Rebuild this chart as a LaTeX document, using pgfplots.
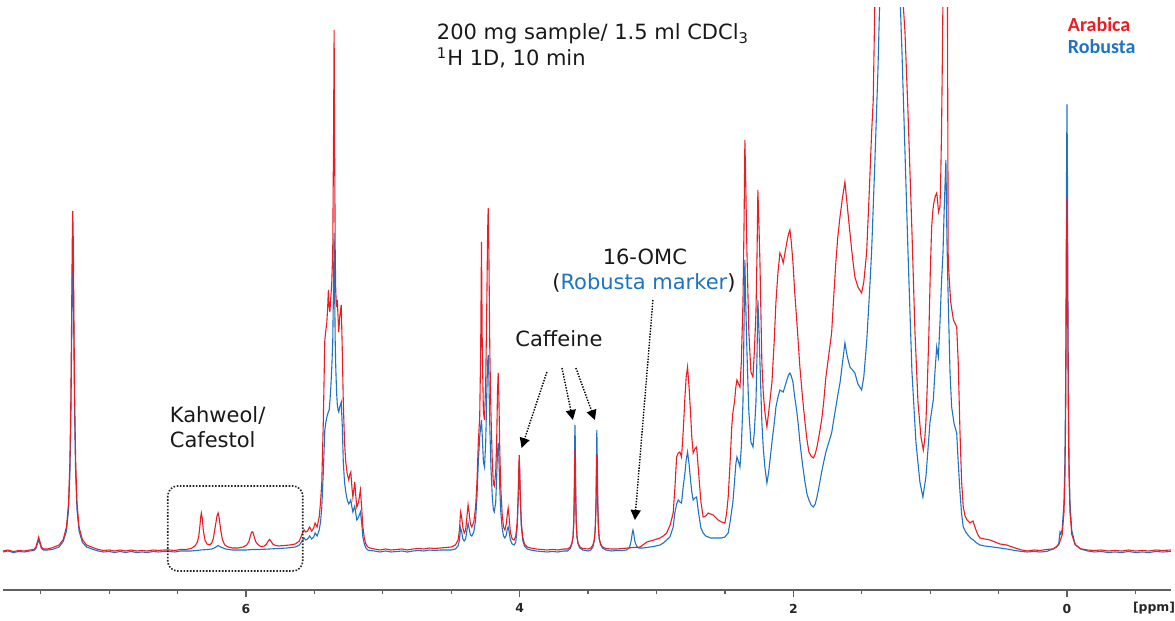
\documentclass[border=0pt]{standalone}
\usepackage{pgfplots}
\pgfplotsset{compat=1.18}
\usepackage{fontspec}
\setmainfont{DejaVu Sans}
\newfontfamily\carlito{Carlito}
\usetikzlibrary{arrows.meta}
\definecolor{arabica}{RGB}{236,28,36}
\definecolor{robusta}{RGB}{30,115,195}

\begin{document}
\begin{tikzpicture}
\begin{axis}[
    at={(0,0)}, anchor=south west,
    scale only axis, width=584pt, height=291pt,
    x dir=reverse,
    xmin=-0.76, xmax=7.776,
    ymin=-38, ymax=544,
    axis x line*=bottom, axis y line=none,
    x axis line style={-, gray!75!black, line width=0.9pt},
    xtick={0,2,4,6},
    minor xtick={-0.5,0.5,1,1.5,2.5,3,3.5,4.5,5,5.5,6.5,7,7.5},
    tick align=outside,
    major tick length=3.4pt, minor tick length=2.2pt,
    every tick/.style={gray!75!black, line width=0.6pt},
    /pgf/number format/assume math mode=true,
    xticklabel style={font=\fontsize{6.2}{7}\selectfont\bfseries, text=black!85},
    clip mode=individual,
]

% Robusta (blue)
\addplot[robusta, line width=0.55pt] coordinates {
(7.776,0) (7.74,1) (7.70,-0.5) (7.66,0.5) (7.62,0) (7.58,1) (7.55,1.5) (7.535,3.5) (7.525,8) (7.515,12) (7.505,8) (7.495,3.5) (7.48,2) (7.45,2) (7.416,2.5)
(7.366,5) (7.336,10.5) (7.312,21) (7.297,42) (7.287,78) (7.280,132.5) (7.275,196) (7.270,270) (7.266,297.5) (7.262,270) (7.257,196) (7.252,132.5) (7.245,78) (7.235,42) (7.220,21) (7.196,9.7) (7.166,5) (7.116,2.5)
(7.08,1) (7.04,0) (7.00,0.5) (6.96,-0.5) (6.92,0.5) (6.88,-0.5) (6.84,0.5) (6.80,-0.5) (6.76,0) (6.72,-0.5) (6.68,0.5) (6.64,0) (6.60,0.5) (6.56,0.5) (6.52,0) (6.48,1) (6.44,1) (6.40,1)
(6.33,2) (6.28,2.5) (6.25,3) (6.225,4.5) (6.204,6.5) (6.185,5) (6.15,3) (6.10,2) (6.05,2) (6.00,2) (5.95,2.5) (5.90,2.5) (5.83,3) (5.76,3.5) (5.70,4) (5.64,5) (5.61,7)
(5.59,11) (5.575,14) (5.565,12) (5.55,13) (5.535,16) (5.52,13) (5.505,15) (5.495,19) (5.48,16) (5.465,22) (5.455,30) (5.446,45) (5.435,80) (5.424,122) (5.416,130) (5.409,135) (5.403,138) (5.398,140) (5.392,142) (5.387,150) (5.380,165) (5.373,185) (5.366,210) (5.360,270) (5.356,319) (5.352,260) (5.348,210) (5.344,185) (5.338,160) (5.333,148) (5.327,142) (5.322,140) (5.315,145) (5.304,150) (5.296,125) (5.289,90) (5.280,70) (5.271,60) (5.260,52) (5.249,48) (5.240,50) (5.234,52) (5.226,45) (5.219,40) (5.212,43) (5.205,46) (5.197,38) (5.190,32) (5.177,35) (5.164,40) (5.155,30) (5.146,15) (5.135,8) (5.124,4) (5.11,2) (5.095,1.5)
(5.06,1) (5.02,0) (4.98,1) (4.94,0) (4.90,0.5) (4.86,1) (4.82,0) (4.78,1) (4.74,1.5) (4.70,1) (4.66,2) (4.62,1.5) (4.58,2) (4.54,2) (4.50,2) (4.47,3)
(4.45,6) (4.44,12) (4.432,24) (4.425,21) (4.415,13) (4.405,11) (4.395,13) (4.385,22) (4.377,29) (4.370,24) (4.360,17) (4.350,16) (4.335,20) (4.322,32) (4.312,55) (4.302,90) (4.292,115) (4.285,125) (4.279,132) (4.273,115) (4.265,90) (4.257,85) (4.248,110) (4.240,160) (4.234,190) (4.230,197) (4.225,175) (4.218,125) (4.210,85) (4.200,55) (4.192,42) (4.185,40) (4.175,50) (4.168,75) (4.162,100) (4.157,109) (4.152,95) (4.145,62) (4.138,40) (4.128,24) (4.118,16) (4.108,14) (4.098,17) (4.090,23) (4.084,25) (4.078,21) (4.068,12) (4.055,8) (4.040,7) (4.028,10) (4.018,25) (4.010,55) (4.006,80) (4.003,92) (4.000,80) (3.996,55) (3.988,26) (3.978,12) (3.965,6) (3.945,3) (3.92,2)
(3.88,1) (3.84,0.5) (3.80,0) (3.76,0.5) (3.72,0) (3.68,1) (3.65,1) (3.63,3.5) (3.618,8) (3.610,15) (3.604,33) (3.600,70) (3.597,118) (3.596,127) (3.594,115) (3.591,70) (3.587,33) (3.581,15) (3.573,8) (3.56,4) (3.54,2)
(3.50,1) (3.48,2) (3.465,5) (3.455,11) (3.448,22) (3.442,50) (3.438,100) (3.436,122) (3.434,105) (3.430,58) (3.425,27) (3.418,13) (3.408,7) (3.395,4) (3.37,2) (3.33,1) (3.29,1.5) (3.25,1.5)
(3.22,2) (3.20,4) (3.19,8) (3.182,14) (3.176,20) (3.172,22) (3.168,20) (3.162,14) (3.155,9) (3.145,6) (3.13,4) (3.10,4) (3.07,4.5) (3.02,5.5) (2.975,7) (2.95,9) (2.926,12) (2.902,15)
(2.878,25) (2.866,39) (2.853,48) (2.841,52) (2.829,50) (2.817,49) (2.805,65) (2.792,79) (2.783,92) (2.773,100) (2.762,88) (2.751,72) (2.742,60) (2.732,52) (2.720,54) (2.707,55) (2.698,45) (2.688,35) (2.675,24) (2.659,19) (2.640,16) (2.622,15) (2.605,14) (2.586,14) (2.565,14) (2.549,14) (2.525,14) (2.500,15) (2.488,17) (2.476,19)
(2.462,30) (2.450,42) (2.442,49) (2.430,70) (2.420,88) (2.412,95) (2.400,90) (2.390,85) (2.380,105) (2.368,150) (2.360,230) (2.354,292) (2.348,250) (2.339,200) (2.325,140) (2.310,110) (2.295,105) (2.285,120) (2.273,150) (2.265,200) (2.259,252) (2.252,225) (2.244,190) (2.237,160) (2.230,130) (2.220,105) (2.208,85) (2.193,69)
(2.180,80) (2.168,95) (2.156,110) (2.140,128) (2.127,145) (2.112,155) (2.098,162) (2.085,161) (2.074,160) (2.060,166) (2.047,172) (2.035,177) (2.025,179) (2.015,176) (2.003,170) (1.990,155) (1.974,140) (1.962,125) (1.952,110) (1.933,88) (1.915,70) (1.900,58) (1.886,52) (1.870,47) (1.854,45) (1.840,48) (1.827,55) (1.810,67) (1.793,80) (1.778,90) (1.762,100) (1.740,110) (1.720,119) (1.705,132) (1.689,145) (1.675,157) (1.659,169) (1.640,190) (1.623,209) (1.605,195) (1.586,185) (1.568,182) (1.550,179) (1.528,168) (1.501,162) (1.485,175) (1.464,210) (1.445,255) (1.428,300) (1.416,345) (1.404,390) (1.382,480) (1.367,560) (1.35,700) (1.30,800)
(1.24,800) (1.221,560) (1.206,500) (1.184,400) (1.162,300) (1.133,180) (1.104,110) (1.075,70) (1.053,55) (1.031,75) (1.001,130) (0.977,152) (0.965,180) (0.952,205) (0.940,195) (0.928,230) (0.917,270) (0.906,300) (0.898,340) (0.885,392) (0.877,310) (0.868,252) (0.855,180) (0.843,145) (0.825,128) (0.806,119) (0.795,90) (0.782,60) (0.770,38) (0.758,25) (0.740,20) (0.724,17) (0.705,14) (0.685,12) (0.660,9) (0.636,7) (0.60,6) (0.541,5) (0.49,4) (0.44,3) (0.38,1.5) (0.33,0.5) (0.29,0) (0.24,0.5) (0.197,0) (0.15,0.5)
(0.10,3.1) (0.075,5) (0.06,9) (0.051,20) (0.044,18) (0.035,23) (0.022,49.5) (0.015,93.5) (0.010,166.5) (0.006,278.5) (0.003,388.5) (0,447.5) (-0.003,388.5) (-0.006,278.5) (-0.010,166.5) (-0.015,93.5) (-0.022,49.5) (-0.035,21.5) (-0.06,7.5) (-0.10,3) (-0.15,1)
(-0.20,0) (-0.25,0.5) (-0.30,-0.5) (-0.35,0) (-0.40,-0.5) (-0.45,0.5) (-0.50,-0.5) (-0.55,0) (-0.60,-0.5) (-0.65,0.5) (-0.70,0) (-0.76,0.5)
};

% Arabica (red)
\addplot[arabica, line width=0.55pt] coordinates {
(7.776,1) (7.74,2) (7.70,0.5) (7.66,1.5) (7.62,1) (7.58,2) (7.55,2.5) (7.535,5) (7.525,10) (7.515,15) (7.505,10) (7.495,5) (7.48,3) (7.45,3) (7.416,4.3)
(7.366,7) (7.336,12.5) (7.312,25) (7.297,49) (7.287,91) (7.280,153) (7.275,225) (7.270,309) (7.266,341) (7.262,309) (7.257,225) (7.252,153) (7.245,91) (7.235,49) (7.220,25) (7.196,12.5) (7.166,7) (7.116,4.3)
(7.08,2.5) (7.04,1.5) (7.00,2) (6.96,1) (6.92,2) (6.88,1) (6.84,2) (6.80,1) (6.76,1.5) (6.72,1) (6.68,2) (6.64,1.5) (6.60,2) (6.56,2) (6.52,1.5) (6.48,2.5) (6.44,2.5) (6.40,3.5)
(6.37,6.5) (6.355,10) (6.345,16) (6.337,26) (6.330,36) (6.326,39) (6.320,34) (6.312,22) (6.300,12) (6.285,8) (6.265,7) (6.250,9) (6.238,14) (6.225,25) (6.212,36) (6.204,39) (6.196,34) (6.185,22) (6.172,12) (6.155,7) (6.13,5) (6.10,4) (6.06,4)
(6.02,5) (5.995,7) (5.98,10) (5.968,16) (5.958,20) (5.950,20) (5.940,15) (5.928,10) (5.91,7) (5.89,5.5) (5.865,6) (5.85,8) (5.838,11) (5.828,12.5) (5.818,11) (5.805,8) (5.785,6.5) (5.76,6) (5.72,6.5) (5.68,7) (5.64,8) (5.61,11)
(5.59,18) (5.575,22) (5.565,20) (5.55,21) (5.535,25) (5.52,21) (5.505,24) (5.495,29) (5.48,25) (5.465,35) (5.455,50) (5.446,70) (5.435,130) (5.424,212) (5.416,222) (5.409,230) (5.403,245) (5.398,262) (5.392,245) (5.387,240) (5.380,255) (5.373,270) (5.366,300) (5.360,420) (5.356,522) (5.352,400) (5.348,300) (5.344,260) (5.338,245) (5.333,252) (5.327,235) (5.322,220) (5.315,235) (5.304,247) (5.296,200) (5.289,150) (5.280,110) (5.271,90) (5.260,78) (5.249,72) (5.240,78) (5.234,80) (5.226,65) (5.219,55) (5.212,62) (5.205,70) (5.197,55) (5.190,45) (5.177,50) (5.164,62) (5.155,45) (5.146,25) (5.135,14) (5.124,8) (5.11,5) (5.095,4)
(5.06,3) (5.02,2) (4.98,3) (4.94,2) (4.90,2.5) (4.86,3) (4.82,2) (4.78,3) (4.74,3.5) (4.70,3) (4.66,4) (4.62,3.5) (4.58,4) (4.54,4.5) (4.50,5) (4.47,7)
(4.45,12) (4.44,22) (4.432,40) (4.425,36) (4.415,24) (4.405,19) (4.395,22) (4.385,36) (4.377,47) (4.370,40) (4.360,28) (4.350,25) (4.335,30) (4.322,45) (4.312,70) (4.302,110) (4.292,135) (4.285,200) (4.279,310) (4.273,200) (4.265,140) (4.257,132) (4.248,170) (4.240,250) (4.234,320) (4.230,344) (4.225,300) (4.218,200) (4.210,140) (4.200,90) (4.192,68) (4.185,66) (4.175,80) (4.168,110) (4.162,160) (4.157,179) (4.152,155) (4.145,100) (4.138,65) (4.128,38) (4.118,25) (4.108,22) (4.098,28) (4.090,38) (4.084,44) (4.078,36) (4.068,20) (4.055,13) (4.040,12) (4.028,16) (4.018,30) (4.010,60) (4.006,85) (4.003,97) (4.000,85) (3.996,60) (3.988,30) (3.978,15) (3.965,8) (3.945,5) (3.92,4)
(3.88,3) (3.84,2.5) (3.80,2) (3.76,2.5) (3.72,2) (3.68,3) (3.65,3) (3.63,5) (3.618,9) (3.610,15) (3.604,30) (3.600,60) (3.597,95) (3.596,103) (3.594,95) (3.591,60) (3.587,30) (3.581,15) (3.573,9) (3.56,5) (3.54,3.5)
(3.50,3) (3.48,4) (3.465,7) (3.455,12) (3.448,22) (3.442,45) (3.438,85) (3.436,97) (3.434,88) (3.430,50) (3.425,25) (3.418,13) (3.408,8) (3.395,5) (3.37,3.5) (3.33,3) (3.29,3) (3.25,3.5) (3.21,4) (3.17,4.5) (3.12,5) (3.07,10) (3.02,12) (2.975,14) (2.95,16) (2.926,19) (2.90,27)
(2.878,39) (2.865,65) (2.853,95) (2.841,99) (2.829,100) (2.817,95) (2.805,120) (2.792,155) (2.783,175) (2.773,185) (2.762,165) (2.751,139) (2.742,115) (2.732,99) (2.720,103) (2.707,105) (2.698,90) (2.688,72) (2.675,50) (2.659,35) (2.640,36) (2.622,39) (2.605,38) (2.586,37) (2.565,34) (2.549,32) (2.525,30) (2.500,29) (2.488,38) (2.476,55)
(2.462,90) (2.450,125) (2.442,139) (2.430,150) (2.420,165) (2.412,172) (2.400,168) (2.390,165) (2.380,190) (2.368,250) (2.360,330) (2.354,412) (2.348,370) (2.339,300) (2.325,220) (2.310,180) (2.295,175) (2.285,200) (2.273,240) (2.265,300) (2.259,362) (2.252,330) (2.244,290) (2.237,240) (2.230,190) (2.220,160) (2.208,140) (2.193,125)
(2.180,140) (2.168,155) (2.156,170) (2.140,210) (2.127,250) (2.112,280) (2.098,299) (2.085,295) (2.074,289) (2.060,300) (2.047,310) (2.035,318) (2.025,322) (2.015,310) (2.003,290) (1.990,260) (1.974,230) (1.962,205) (1.952,185) (1.933,155) (1.915,130) (1.900,112) (1.886,100) (1.870,96) (1.854,94) (1.840,98) (1.827,105) (1.810,118) (1.793,132) (1.778,150) (1.762,175) (1.740,198) (1.720,219) (1.705,255) (1.689,290) (1.675,315) (1.659,335) (1.640,355) (1.623,370) (1.605,345) (1.586,319) (1.568,295) (1.550,275) (1.528,265) (1.501,259) (1.485,270) (1.464,300) (1.445,360) (1.428,419) (1.416,452) (1.404,552) (1.389,650) (1.35,800)
(1.22,800) (1.199,552) (1.184,520) (1.162,440) (1.133,320) (1.111,220) (1.089,150) (1.067,115) (1.050,102) (1.040,112) (1.031,130) (1.020,170) (1.009,220) (0.999,280) (0.989,325) (0.980,342) (0.972,350) (0.962,356) (0.952,359) (0.945,350) (0.939,340) (0.933,343) (0.928,345) (0.922,380) (0.917,420) (0.911,490) (0.906,560) (0.895,750) (0.880,800) (0.877,700) (0.868,290) (0.850,250) (0.830,232) (0.806,225) (0.795,190) (0.782,120) (0.770,70) (0.758,45) (0.745,36) (0.730,32) (0.709,29) (0.700,30) (0.687,31) (0.675,26) (0.665,22) (0.650,17) (0.636,14) (0.60,13) (0.563,12) (0.526,10) (0.49,8) (0.44,7) (0.38,4) (0.33,2) (0.29,1) (0.24,2) (0.197,1.5) (0.15,2.5)
(0.10,3.2) (0.06,7.2) (0.035,17.5) (0.022,39.5) (0.015,74.5) (0.010,132.5) (0.006,220.5) (0.003,306.5) (0,353.5) (-0.003,306.5) (-0.006,220.5) (-0.010,132.5) (-0.015,74.5) (-0.022,39.5) (-0.035,17.5) (-0.06,7.2) (-0.10,3.2) (-0.15,2)
(-0.20,1.5) (-0.25,2) (-0.30,1) (-0.35,1.5) (-0.40,1) (-0.45,2) (-0.50,1) (-0.55,1.5) (-0.60,1) (-0.65,2) (-0.70,1.5) (-0.76,2)
};

% annotations
\node[anchor=base west, font=\fontsize{10.5}{12}\selectfont, text=black!90] at (axis cs:4.656,512) {200 mg sample/ 1.5 ml CDCl\textsubscript{3}};
\node[anchor=base west, font=\fontsize{10.5}{12}\selectfont, text=black!90] at (axis cs:4.656,486) {\textsuperscript{1}H 1D, 10 min};
\node[anchor=base west, font=\carlito\bfseries\fontsize{10}{12}\selectfont, text=arabica] at (axis cs:0.045,520) {Arabica};
\node[anchor=base west, font=\carlito\bfseries\fontsize{10}{12}\selectfont, text=robusta] at (axis cs:0.045,498) {Robusta};

\node[anchor=base west, font=\fontsize{10.5}{12}\selectfont, text=black!90] at (axis cs:6.608,129) {Kahweol/};
\node[anchor=base west, font=\fontsize{10.5}{12}\selectfont, text=black!90] at (axis cs:6.608,104) {Cafestol};
\draw[black!85, line width=0.8pt, dash pattern=on 0.8pt off 0.8pt, rounded corners=5pt] (axis cs:6.572,66) rectangle (axis cs:5.585,-19);

\node[anchor=base, font=\fontsize{10.5}{12}\selectfont, text=black!90] at (axis cs:3.713,205) {Caffeine};
\node[anchor=base, font=\fontsize{10.5}{12}\selectfont, text=black!90] at (axis cs:3.085,287) {16-OMC};
\node[anchor=base, font=\fontsize{10.5}{12}\selectfont, text=black!90] at (axis cs:3.092,262) {(\textcolor{robusta}{Robusta marker})};

\tikzset{ann/.style={black, line width=0.7pt, dash pattern=on 0.7pt off 0.7pt, -{Triangle[length=5pt, width=5pt]}}}
\draw[ann] (axis cs:3.801,180) -- (axis cs:3.986,104);
\draw[ann] (axis cs:3.691,184) -- (axis cs:3.611,132);
\draw[ann] (axis cs:3.589,184) -- (axis cs:3.450,132);
\draw[ann] (axis cs:3.026,252) -- (axis cs:3.158,32);

\node[anchor=base, font=\fontsize{6.2}{7}\selectfont\bfseries, text=black!85] at (axis cs:-0.636,-60) {[ppm]};
\end{axis}
\pgfresetboundingbox
\useasboundingbox (-1.5pt,-15.5pt) rectangle (586pt,295pt);
\end{tikzpicture}
\end{document}
